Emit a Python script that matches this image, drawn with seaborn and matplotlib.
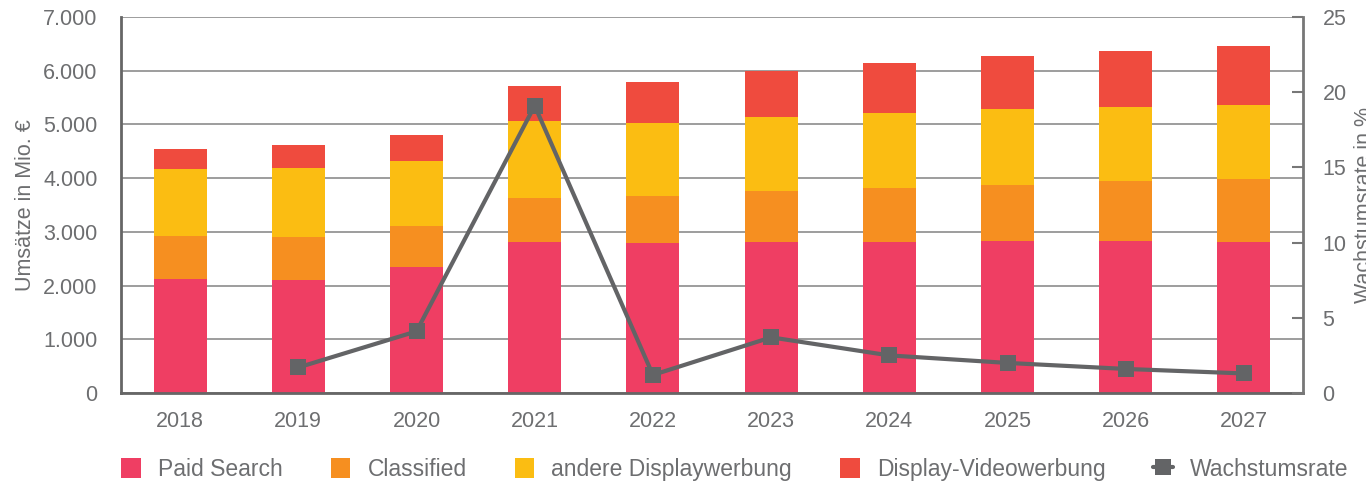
import numpy as np
import pandas as pd
import seaborn as sns
import matplotlib.pyplot as plt
from matplotlib.patches import Patch
from matplotlib.lines import Line2D
from matplotlib.ticker import FixedLocator, FuncFormatter

# ---- data (Mio. €) ----
years = ["2018", "2019", "2020", "2021", "2022", "2023", "2024", "2025", "2026", "2027"]
paid_search = [2120, 2105, 2345, 2810, 2795, 2810, 2810, 2830, 2830, 2810]
classified = [800, 800, 765, 820, 875, 950, 1005, 1045, 1115, 1175]
andere_display = [1250, 1285, 1210, 1435, 1360, 1380, 1395, 1415, 1380, 1380]
display_video = [370, 430, 485, 650, 760, 855, 930, 985, 1040, 1100]
growth = [np.nan, 1.7, 4.1, 19.1, 1.2, 3.7, 2.5, 2.0, 1.6, 1.3]

series_names = ["Paid Search", "Classified", "andere Displaywerbung", "Display-Videowerbung"]
colors = ["#EF3E63", "#F68F20", "#FBBD12", "#EF4B3E"]
line_color = "#636466"
text_color = "#6D6E70"
fs = 15.5
fs_leg = 16.5

sns.set_theme(style="white")
plt.rcParams["font.family"] = ["Liberation Sans", "DejaVu Sans"]

df = pd.DataFrame({
    "Jahr": years,
    "Paid Search": paid_search,
    "Classified": classified,
    "andere Displaywerbung": andere_display,
    "Display-Videowerbung": display_video,
})
cum = df[series_names].cumsum(axis=1)
cum["Jahr"] = years

fig = plt.figure(figsize=(13.66, 4.86), dpi=100)
ax = fig.add_axes([121 / 1366, 1 - 393 / 486, (1303 - 121) / 1366, 376 / 486])

# stacked bars: draw cumulative totals from tallest to shortest
for name, color in reversed(list(zip(series_names, colors))):
    sns.barplot(data=cum, x="Jahr", y=name, color=color, width=0.45, ax=ax,
                saturation=1, errorbar=None, linewidth=0, edgecolor="none")

ax.set_ylim(0, 7000)
ax.set_yticks(np.arange(0, 7001, 1000))
ax.yaxis.set_major_formatter(FuncFormatter(lambda v, p: f"{int(v):,}".replace(",", ".")))
ax.yaxis.grid(True, color="#8C8C8C", linewidth=1.2)
ax.set_axisbelow(True)
ax.set_xlabel("")
ax.set_ylabel("Umsätze in Mio. €", fontsize=fs, color=text_color)
ax.yaxis.set_label_coords(-0.072, 0.5)

for s in ["top", "right"]:
    ax.spines[s].set_visible(False)
for s in ["left", "bottom"]:
    ax.spines[s].set_color("#666666")
    ax.spines[s].set_linewidth(2)

ax.tick_params(axis="x", which="major", length=0, pad=13, labelsize=fs, labelcolor=text_color)
ax.xaxis.set_minor_locator(FixedLocator(np.arange(0.5, 9, 1.0)))
ax.tick_params(axis="x", which="minor", direction="in", length=7, width=1.5, color="#666666")
ax.tick_params(axis="y", length=0, pad=17, labelsize=fs, labelcolor=text_color)

# growth rate on secondary axis
ax2 = ax.twinx()
gdf = pd.DataFrame({"pos": np.arange(len(years)), "Wachstumsrate": growth}).dropna()
sns.lineplot(data=gdf, x="pos", y="Wachstumsrate", ax=ax2, color=line_color,
             linewidth=3, marker="s", markersize=11.5, markeredgewidth=0)
ax2.set_ylim(0, 25)
ax2.set_yticks(np.arange(0, 26, 5))
ax2.set_xlabel("")
ax2.set_ylabel("Wachstumsrate in %", fontsize=fs, color=text_color, rotation=90)
ax2.yaxis.set_label_coords(1.043, 0.5)
ax2.tick_params(axis="y", direction="in", length=8, width=1.5, color="#777777",
                pad=14, labelsize=fs, labelcolor=text_color)
for s in ["top", "left", "bottom"]:
    ax2.spines[s].set_visible(False)
ax2.spines["right"].set_color("#777777")
ax2.spines["right"].set_linewidth(2)
ax.set_xlim(-0.5, 9.5)

handles = [Patch(facecolor=c, edgecolor="none") for c in colors]
handles.append(Line2D([], [], color=line_color, linewidth=3, marker="s",
                      markersize=11.5, markeredgewidth=0))
labels = series_names + ["Wachstumsrate"]
fig.legend(handles, labels, loc="center left", bbox_to_anchor=(112 / 1366, 1 - 469 / 486),
           ncol=5, frameon=False, fontsize=fs_leg, labelcolor=text_color,
           handlelength=0.85, handleheight=0.95, handletextpad=0.75,
           columnspacing=2.1, borderaxespad=0)

fig.savefig("out.png", dpi=100)
